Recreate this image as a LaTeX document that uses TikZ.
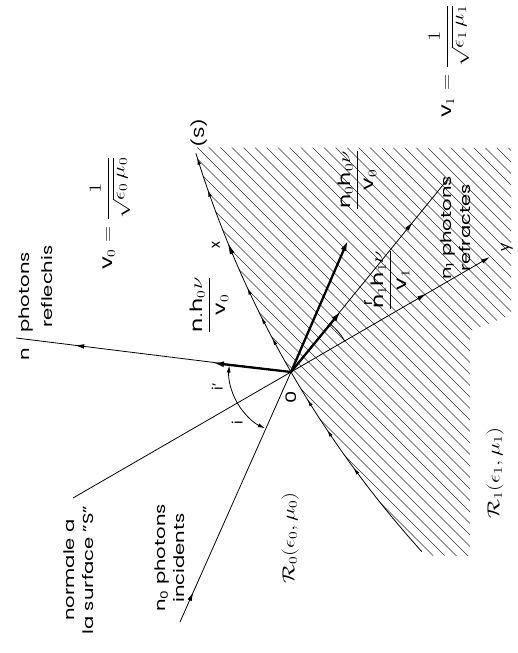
\documentclass[tikz,border=0pt]{standalone}
\usepackage{fontspec}
\setmainfont{Poppins}
\usepackage{amsmath}
\usepackage{graphicx}
\usetikzlibrary{arrows.meta,decorations.markings,calc}
\newcommand\widetxt[1]{\scalebox{1.35}[1]{#1}}
\newcommand\widemath[1]{\scalebox{1.3}[1]{#1}}
\begin{document}
\begin{tikzpicture}[x=1pt,y=1pt,
  ray/.style={line width=0.8pt},
  boldvec/.style={line width=2.3pt,-{Latex[length=11pt,width=6pt]}},
  tip/.style={-{Latex[length=9pt,width=4.5pt]}},
  lbl/.style={rotate=90,inner sep=0pt,font=\fontsize{14.5}{19}\selectfont},
  mlbl/.style={rotate=90,inner sep=0pt,font=\fontsize{17}{20}\selectfont},
  flbl/.style={rotate=90,inner sep=0pt,font=\fontsize{17.5}{21}\selectfont},
  midarrow/.style={postaction={decorate},decoration={markings,
     mark=at position #1 with {\arrow{Latex[length=9pt,width=4.5pt]}}}},
  hatch/.style={line width=0.45pt,black!80}]
\useasboundingbox[fill=white] (0,0) rectangle (517,653);
% key points
\coordinate (O) at (291,281);
\coordinate (R) at (16,315);
\coordinate (Rb) at (213,290);
\coordinate (N) at (73,155);
\coordinate (Yax) at (490,396);
\coordinate (I) at (180,31);
\coordinate (P0) at (348,413);
\coordinate (T) at (447,473);
\coordinate (P1) at (341,342);
% hatched medium
\begin{scope}
\clip plot[domain=-2.26:2.43,samples=60,variable=\t]
   ({291-50*\t+4.157*\t*\t},{281+86.6*\t+2.4*\t*\t})
   -- (511,505) -- (511,338) -- (470,322) -- (470,97) -- cycle;
\foreach \c in {300,311.5,...,900}
  \draw[hatch] (150,\c) -- (560,\c-410);
\end{scope}
% surface S
\draw[ray,postaction={decorate},decoration={markings,
   mark=at position 0.234 with {\arrow{Latex[length=7pt,width=3.5pt]}},
   mark=at position 0.334 with {\arrow{Latex[length=7pt,width=3.5pt]}},
   mark=at position 0.413 with {\arrow{Latex[length=7pt,width=3.5pt]}},
   mark=at position 0.566 with {\arrow{Latex[length=7pt,width=3.5pt]}},
   mark=at position 0.618 with {\arrow{Latex[length=7pt,width=3.5pt]}},
   mark=at position 0.688 with {\arrow{Latex[length=7pt,width=3.5pt]}},
   mark=at position 0.793 with {\arrow{Latex[length=11pt,width=5pt]}},
   mark=at position 0.917 with {\arrow{Latex[length=7pt,width=3.5pt]}},
   mark=at position 0.99 with {\arrow{Latex[length=7pt,width=3.5pt]}}}]
   plot[domain=-2.21:2.37,samples=60,variable=\t]
   ({291-50*\t+4.157*\t*\t},{281+86.6*\t+2.4*\t*\t});
% rays
\draw[ray,midarrow=0.785] (O) -- (R);
\draw[boldvec] (O) -- (Rb);
\draw[ray,midarrow=0.12] (I) -- (O);
\draw[ray] (N) -- (O);
\draw[ray,tip,midarrow=0.68] (O) -- (Yax);
\draw[ray,midarrow=0.78] (O) -- (T);
\draw[boldvec] (O) -- (P0);
\draw[boldvec] (O) -- (P1);
% angle arcs
\draw[ray,-{Latex[length=7pt,width=4pt]}] ($(O)+(210:62)$) arc[start angle=210,end angle=174,radius=62];
\draw[ray,-{Latex[length=7pt,width=4pt]}] ($(O)+(210:62)$) arc[start angle=210,end angle=245,radius=62];
\draw[ray] ($(O)+(30:62)$) arc[start angle=30,end angle=51,radius=62];
% labels
\node[lbl] (ln) at (25,299) {\widetxt{n}};
\node[lbl,anchor=west] (lph) at (26,320) {\widetxt{photons}};
\node[lbl,anchor=west] (lref) at (47,325) {\widetxt{reflechis}};
\node[flbl] (lv0) at (110,440) {\widemath{$\mathrm{v}_0 = \dfrac{1}{\sqrt{\epsilon_0\,\mu_0}}$}};
\node[flbl] (lv1) at (449,592) {\widemath{$\mathrm{v}_1 = \dfrac{1}{\sqrt{\epsilon_1\,\mu_1}}$}};
\node[mlbl] (lnh) at (209,348) {\widemath{$\dfrac{\mathrm{n.h}_0\nu}{\mathrm{v}_0}$}};
\node[mlbl] (ln0h) at (357,473) {\widemath{$\dfrac{\mathrm{n}_0\mathrm{h}_0\nu}{\mathrm{v}_0}$}};
\node[mlbl] (ln1h) at (390,373) {\widemath{$\dfrac{\mathrm{n}_1\mathrm{h}_1\nu}{\mathrm{v}_1}$}};
\node[lbl] (lr) at (368,350) {r};
\node[lbl] (lrefr) at (457,425) {\widetxt{\begin{tabular}{@{}c@{}}n\textsubscript{1} photons\\refractes\end{tabular}}};
\node[lbl] (ly) at (507,406) {y};
\node[lbl] (lx) at (216,408) {x};
\node[lbl] (lS) at (199,520) {\widetxt{(S)}};
\node[lbl] (lip) at (217,266) {i'};
\node[lbl] (li) at (237,230) {i};
\node[lbl] (lO) at (291,256) {\widetxt{0}};
\node[lbl] (lnorm) at (80,83) {\widetxt{\begin{tabular}{@{}c@{}}normale a\\la surface "S"\end{tabular}}};
\node[lbl] (linc) at (171,95) {\widetxt{\begin{tabular}{@{}c@{}}n\textsubscript{0} photons\\incidents\end{tabular}}};
\node[mlbl] (lR0) at (290,115) {\widemath{$\mathcal{R}_0(\epsilon_0,\mu_0)$}};
\node[mlbl] (lR1) at (495,180) {\widemath{$\mathcal{R}_1(\epsilon_1,\mu_1)$}};
\end{tikzpicture}
\end{document}
